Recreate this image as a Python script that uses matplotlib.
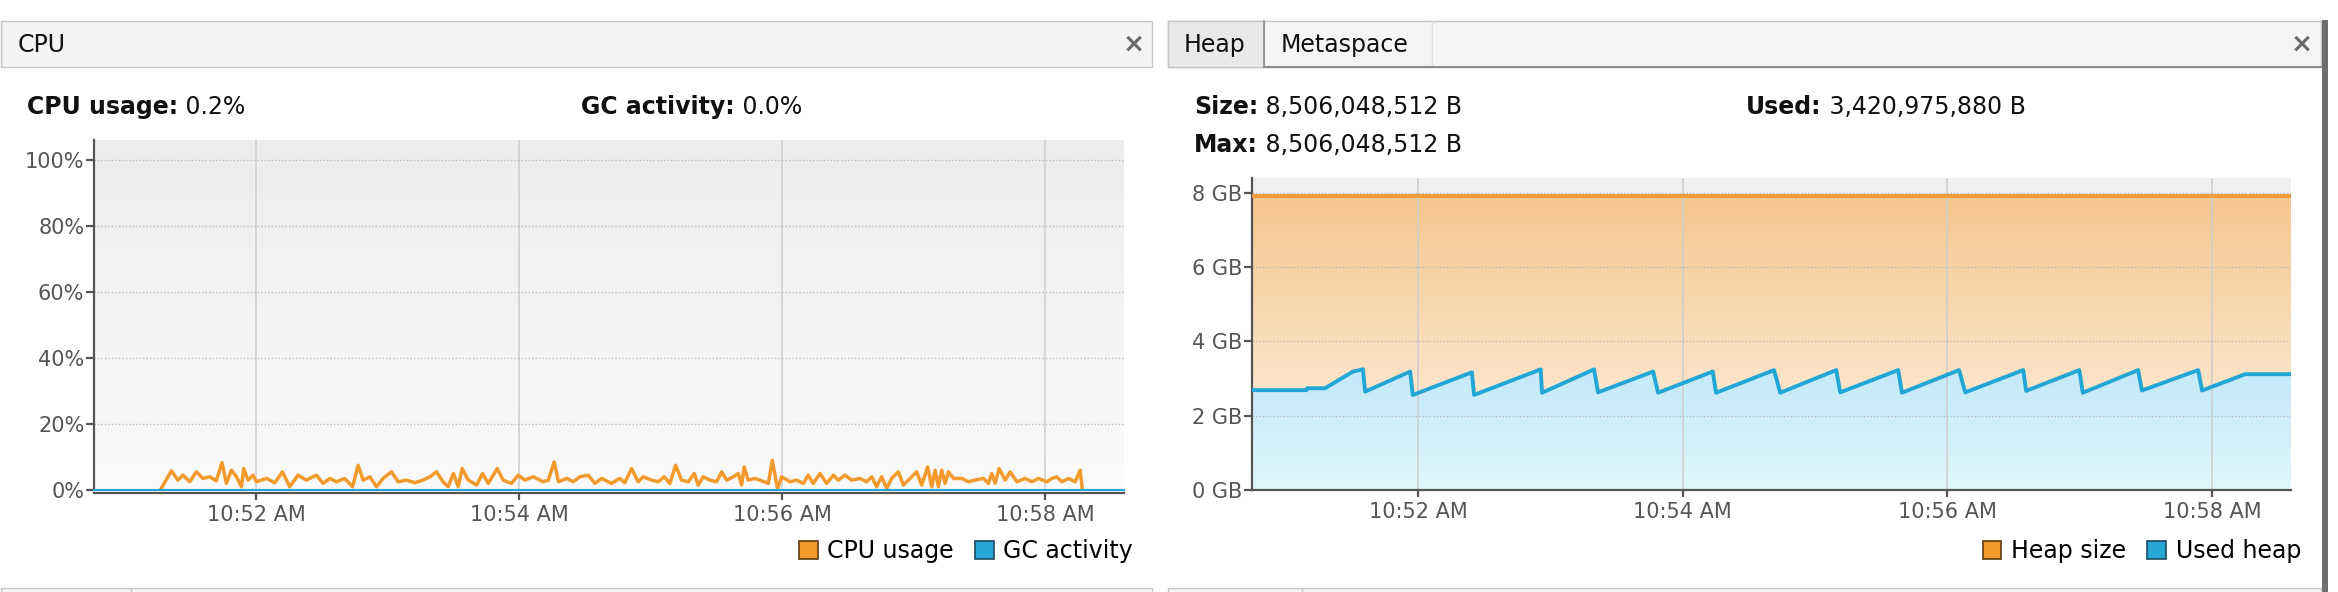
import matplotlib
matplotlib.use("Agg")
import matplotlib.pyplot as plt
import matplotlib.dates as mdates
from matplotlib.patches import Rectangle, Patch
from matplotlib.colors import LinearSegmentedColormap
from datetime import datetime, timedelta
import numpy as np

W, H = 2338, 592
base = datetime(2024, 1, 1, 10, 50, 0)

# CPU panel data (seconds after 10:50:00, percent)
cpu_sec = [76.3, 81.3, 84.3, 86.6, 89.7, 92.7, 95.7, 98.8, 101.8, 104.4, 106.4, 108.7, 111.0, 113.3,
           114.3, 116.3, 118.6, 120.1, 124.7, 128.5, 132.0, 135.3, 139.1, 142.9, 147.5, 150.5, 153.6,
           156.6, 160.4, 164.0, 166.5, 168.8, 171.9, 174.9, 177.9, 181.7, 184.8, 188.6, 192.4, 196.2,
           199.3, 202.3, 205.3, 207.6, 210.0, 212.2, 214.0, 216.8, 220.6, 223.3, 225.9, 230.0, 232.7,
           236.5, 239.6, 242.6, 246.4, 251.0, 253.3, 256.0, 257.9, 261.7, 264.7, 267.7, 271.5, 274.6,
           277.6, 280.7, 282.1, 286.0, 288.2, 291.3, 294.3, 296.6, 300.4, 303.5, 306.2, 308.8, 311.4,
           314.1, 317.2, 319.9, 321.7, 324.0, 327.0, 330.1, 332.4, 334.7, 337.7, 340.0, 341.5, 342.7,
           344.5, 347.6, 350.6, 353.7, 355.5, 357.9, 359.8, 363.6, 366.6, 369.7, 371.9, 374.2, 377.3,
           380.3, 383.4, 385.6, 388.7, 391.7, 395.5, 398.6, 400.9, 403.1, 405.4, 407.7, 410.0, 413.0,
           415.3, 418.4, 421.4, 423.7, 426.4, 428.3, 429.8, 431.3, 432.8, 434.4, 435.9, 438.2, 442.0,
           445.0, 448.0, 451.9, 454.1, 455.7, 457.2, 459.0, 461.8, 464.1, 467.1, 470.9, 474.0, 477.0,
           480.8, 483.1, 485.3, 487.6, 490.7, 493.7, 496.0, 497.0]
cpu_pct = [0.0, 5.8, 3.0, 4.5, 2.5, 5.5, 3.5, 4.0, 2.8, 8.3, 2.0, 6.0, 4.0, 1.0,
           6.5, 3.0, 4.5, 2.5, 3.5, 2.2, 5.5, 1.0, 4.5, 3.0, 4.5, 2.0, 3.5,
           2.5, 3.5, 1.0, 7.5, 3.0, 4.0, 1.0, 3.5, 5.5, 2.5, 3.0, 2.2, 3.0,
           4.0, 5.5, 2.5, 1.0, 5.0, 1.0, 6.5, 3.0, 1.5, 5.0, 2.0, 6.5, 3.0,
           2.0, 4.5, 3.0, 4.0, 2.5, 3.0, 8.5, 2.5, 3.5, 2.5, 4.0, 4.5, 2.0,
           3.5, 2.5, 2.0, 3.5, 2.2, 6.5, 2.5, 4.0, 3.0, 2.5, 4.0, 2.0, 7.5,
           3.0, 2.5, 5.0, 1.5, 4.0, 3.0, 2.5, 5.5, 3.0, 4.0, 5.0, 1.5, 7.0,
           3.0, 3.5, 2.8, 2.0, 9.0, 0.3, 4.0, 2.5, 3.0, 2.0, 4.5, 2.0, 5.0,
           2.0, 4.5, 3.0, 4.5, 3.0, 3.5, 2.5, 4.0, 1.0, 4.0, 0.5, 3.5, 5.5,
           1.5, 3.5, 5.5, 1.5, 7.0, 1.0, 6.0, 1.0, 6.0, 2.0, 5.5, 3.5, 3.5,
           2.5, 3.0, 3.5, 2.0, 5.0, 2.0, 6.5, 3.0, 5.5, 2.5, 3.5, 2.5, 3.5,
           2.5, 3.5, 4.0, 2.5, 3.5, 2.5, 6.0, 0.0]
gc_sec = [46.0, 516.0]
gc_pct = [0.0, 0.0]
cpu_ticks = [0, 20, 40, 60, 80, 100]

# Heap panel data (seconds after 10:50:00, GB)
heap_sec = [44.7, 515.8]
heap_gb = [7.922, 7.922]
used_sec = [44.7, 69.5, 69.7, 77.8, 90.5, 95.0, 96.0, 116.4, 117.6, 144.4, 145.4, 175.6, 176.2,
            199.8, 201.6, 226.6, 228.8, 253.6, 255.1, 281.4, 284.2, 309.6, 311.4, 337.7, 339.4,
            365.3, 368.1, 394.4, 395.7, 419.8, 421.4, 446.5, 448.2, 473.7, 475.5, 495.0, 515.8]
used_gb = [2.69, 2.69, 2.74, 2.74, 3.19, 3.25, 2.65, 3.19, 2.56, 3.17, 2.56, 3.25, 2.62,
           3.25, 2.63, 3.19, 2.62, 3.19, 2.62, 3.23, 2.62, 3.23, 2.63, 3.23, 2.62,
           3.23, 2.63, 3.23, 2.67, 3.23, 2.62, 3.23, 2.68, 3.23, 2.68, 3.12, 3.12]
heap_ticks = [0, 2, 4, 6, 8]

cpu_header = [("CPU usage:", "0.2%"), ("GC activity:", "0.0%")]
heap_header = [("Size:", "8,506,048,512 B"), ("Used:", "3,420,975,880 B"), ("Max:", "8,506,048,512 B")]

ORANGE = "#f29b2c"
BLUE = "#22a6d5"


def to_time(secs):
    return [base + timedelta(seconds=float(s)) for s in secs]


fig = plt.figure(figsize=(W / 100, H / 100), dpi=100)
fig.patch.set_facecolor("white")

# --- window chrome, drawn in pixel coordinates ---
bg = fig.add_axes([0, 0, 1, 1])
bg.set_xlim(0, W)
bg.set_ylim(H, 0)
bg.axis("off")

bg.add_patch(Rectangle((0.5, 21), 1151, 46, fc="#f4f4f4", ec="#c6c6c6", lw=1))
bg.add_patch(Rectangle((1168, 21), 1153, 46, fc="#f5f5f5", ec="#c6c6c6", lw=1))
bg.add_patch(Rectangle((1168, 21), 96, 46, fc="#e9e9e9", ec="#c6c6c6", lw=1))
bg.plot([1264, 1264], [21, 67], color="#8c8c8c", lw=1.2)
bg.plot([1432, 1432], [21, 66], color="#dedede", lw=1)
bg.plot([1264, 2321], [66.5, 66.5], color="#8c8c8c", lw=1.5)
bg.text(18, 45, "CPU", fontsize=17, va="center", ha="left", color="#111111")
bg.text(1184, 45, "Heap", fontsize=17, va="center", ha="left", color="#111111")
bg.text(1281, 45, "Metaspace", fontsize=17, va="center", ha="left", color="#111111")
bg.text(1134, 45, "\u00d7", fontsize=19, fontweight="bold", va="center", ha="center", color="#6a6a6a")
bg.text(2302, 45, "\u00d7", fontsize=19, fontweight="bold", va="center", ha="center", color="#6a6a6a")
bg.add_patch(Rectangle((2322, 20), 6, H - 20, fc="#6e6e6e", ec="none"))
bg.add_patch(Rectangle((0.5, 588), 1151, 20, fc="#f4f4f4", ec="#c6c6c6", lw=1))
bg.add_patch(Rectangle((1168, 588), 1153, 20, fc="#f4f4f4", ec="#c6c6c6", lw=1))
bg.plot([131, 131], [588, H], color="#c6c6c6", lw=1)
bg.plot([1302, 1302], [588, H], color="#c6c6c6", lw=1)


def header(x, y, label, value):
    t = bg.text(x, y, label, fontsize=17, fontweight="bold", va="center", ha="left", color="#111111")
    bg.annotate(" " + value, xy=(1, 0), xycoords=t, va="bottom", ha="left", fontsize=17, color="#111111")


header(27, 107, *cpu_header[0])
header(581, 107, *cpu_header[1])
header(1194, 107, *heap_header[0])
header(1746, 107, *heap_header[1])
header(1194, 145, *heap_header[2])


def style_axes(ax):
    for s in ("top", "right"):
        ax.spines[s].set_visible(False)
    for s in ("left", "bottom"):
        ax.spines[s].set_color("#555555")
        ax.spines[s].set_linewidth(1.6)
    ax.grid(axis="x", color="#cdcdcd", lw=1.1, ls="-")
    ax.grid(axis="y", color="#bcbcbc", lw=1.0, ls=(0, (1, 1.5)))
    ax.tick_params(axis="y", length=6, width=1.6, color="#555555", labelcolor="#555555",
                   labelsize=15, pad=1)
    ax.tick_params(axis="x", length=5, width=1.6, color="#555555", labelcolor="#555555",
                   labelsize=15, pad=4)
    ax.xaxis.set_major_locator(mdates.MinuteLocator(interval=2))
    ax.xaxis.set_major_formatter(mdates.DateFormatter("%I:%M %p"))


# --- CPU chart ---
ax1 = fig.add_axes([94 / W, (H - 490) / H, 1030 / W, 350 / H])
cpu_t = to_time(cpu_sec)
gc_t = to_time(gc_sec)
ax1.plot(cpu_t, cpu_pct, color=ORANGE, lw=2.5, zorder=4)
ax1.plot(gc_t, gc_pct, color=BLUE, lw=1.5, zorder=5, clip_on=False)
x0, x1 = mdates.date2num(base + timedelta(seconds=46)), mdates.date2num(base + timedelta(seconds=516))
ymax1 = 106.06
grey = LinearSegmentedColormap.from_list("g", ["#fafafa", "#ededed"])
ax1.imshow(np.linspace(0, 1, 256).reshape(-1, 1), extent=[x0, x1, 0, ymax1], origin="lower",
           cmap=grey, aspect="auto", zorder=0.2)
ax1.set_xlim(x0, x1)
ax1.set_ylim(0, ymax1)
ax1.set_yticks(cpu_ticks)
ax1.set_yticklabels([f"{v}%" for v in cpu_ticks])
style_axes(ax1)
ax1.spines["bottom"].set_position(("outward", 2))
ax1.legend(handles=[Patch(fc=ORANGE, ec="#5a3a10", lw=1.2, label="CPU usage"),
                    Patch(fc="#27a7d6", ec="#1b4a5e", lw=1.2, label="GC activity")],
           loc="center right", bbox_to_anchor=(1.0087, -0.174), ncol=2, frameon=False, fontsize=17,
           handlelength=0.8, handleheight=0.8, handletextpad=0.4, columnspacing=0.9,
           borderpad=0, borderaxespad=0)

# --- Heap chart ---
ax2 = fig.add_axes([1252 / W, (H - 490) / H, 1039 / W, 312 / H])
ax2.set_facecolor("#efefef")
heap_t = to_time(heap_sec)
used_t = to_time(used_sec)
used_num = mdates.date2num(used_t)
heap_at_used = np.interp(used_num, mdates.date2num(heap_t), heap_gb)
x0, x1 = mdates.date2num(heap_t[0]), mdates.date2num(heap_t[-1])

upper = ax2.fill_between(used_t, used_gb, heap_at_used, facecolor="none", edgecolor="none")
lower = ax2.fill_between(used_t, 0, used_gb, facecolor="none", edgecolor="none")
orange_cm = LinearSegmentedColormap.from_list("o", ["#fce6cb", "#f5c68f"])
blue_cm = LinearSegmentedColormap.from_list("b", ["#e0f6fd", "#c3e9f9"])
img_o = ax2.imshow(np.linspace(0, 1, 256).reshape(-1, 1), extent=[x0, x1, 2.5, max(heap_gb)],
                   origin="lower", cmap=orange_cm, aspect="auto", zorder=0.2)
img_o.set_clip_path(upper.get_paths()[0], transform=ax2.transData)
img_b = ax2.imshow(np.linspace(0, 1, 256).reshape(-1, 1), extent=[x0, x1, 0, max(used_gb)],
                   origin="lower", cmap=blue_cm, aspect="auto", zorder=0.2)
img_b.set_clip_path(lower.get_paths()[0], transform=ax2.transData)

ax2.plot(heap_t, heap_gb, color="#ef9a33", lw=2.8, zorder=4)
ax2.plot(used_t, used_gb, color=BLUE, lw=2.8, zorder=5)
ax2.set_xlim(x0, x1)
ax2.set_ylim(0, 8.404)
ax2.set_yticks(heap_ticks)
ax2.set_yticklabels([f"{v} GB" for v in heap_ticks])
style_axes(ax2)
ax2.legend(handles=[Patch(fc=ORANGE, ec="#5a3a10", lw=1.2, label="Heap size"),
                    Patch(fc="#27a7d6", ec="#1b4a5e", lw=1.2, label="Used heap")],
           loc="center right", bbox_to_anchor=(1.0096, -0.1955), ncol=2, frameon=False, fontsize=17,
           handlelength=0.8, handleheight=0.8, handletextpad=0.4, columnspacing=0.9,
           borderpad=0, borderaxespad=0)

fig.savefig("out.png", dpi=100)
